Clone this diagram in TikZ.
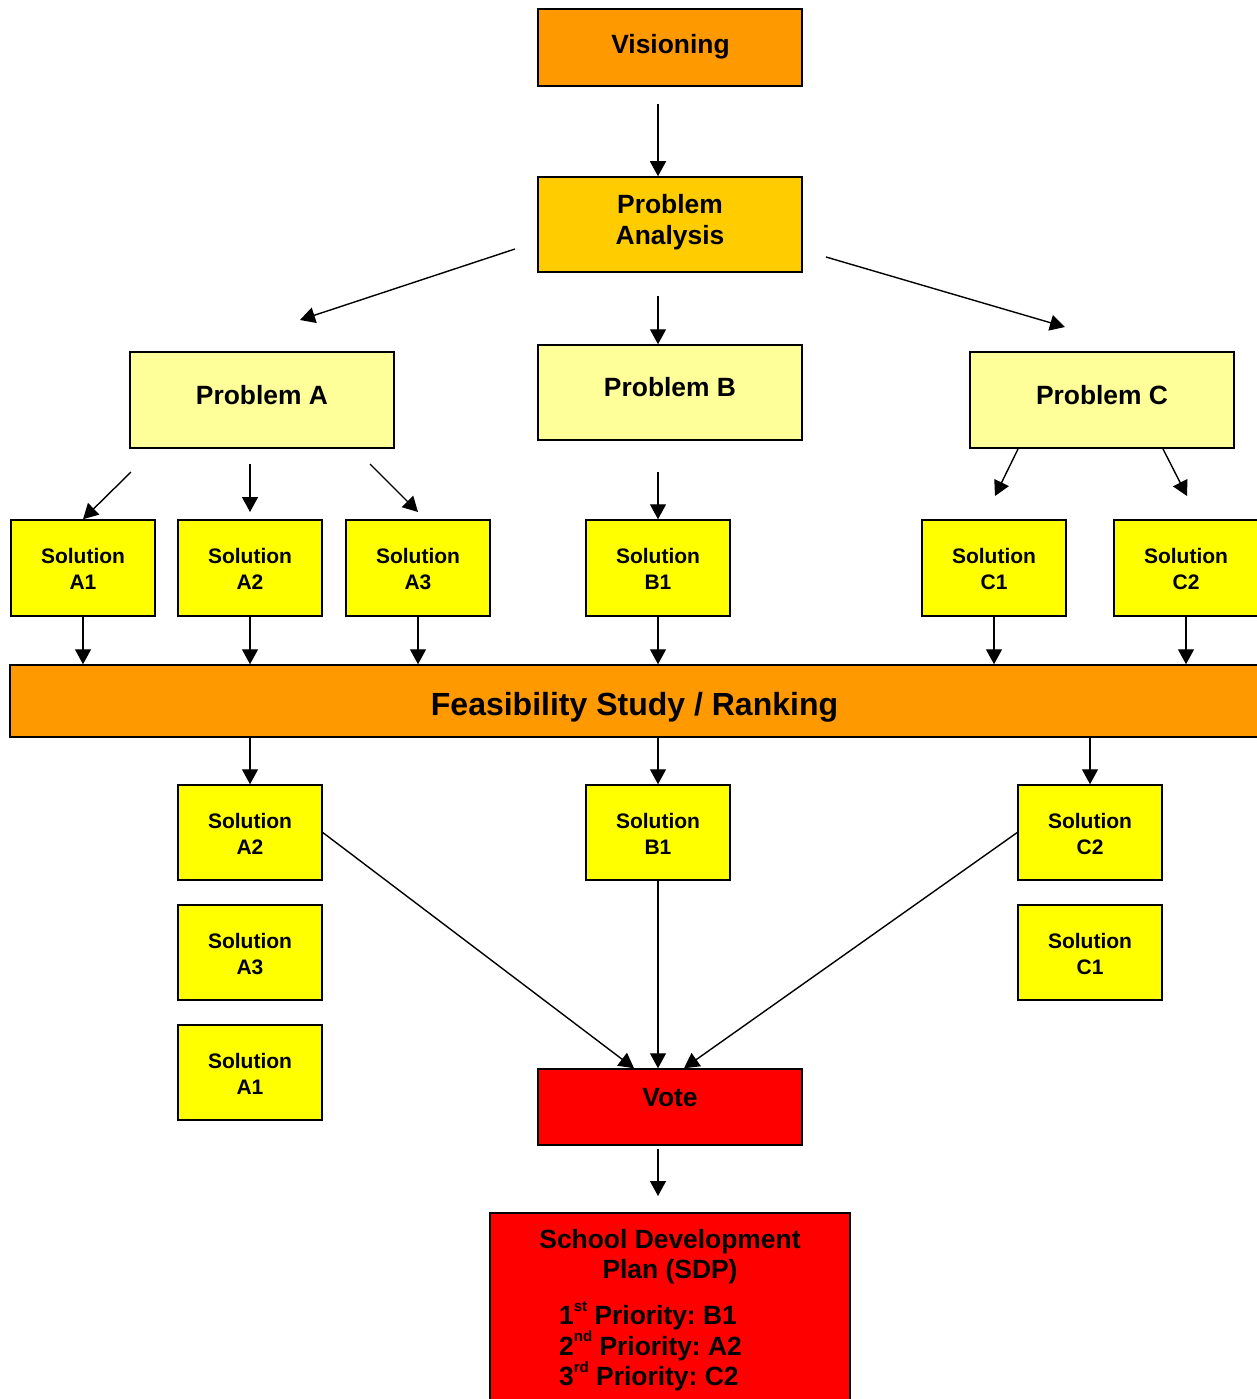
\documentclass[tikz,border=0pt]{standalone}
\usepackage{fontspec}
\setmainfont{Liberation Sans}
\usetikzlibrary{arrows.meta,calc}
\definecolor{cVis}{HTML}{FF9900}
\definecolor{cPA}{HTML}{FFCC00}
\definecolor{cProb}{HTML}{FFFF99}
\definecolor{cSol}{HTML}{FFFF00}
\definecolor{cRed}{HTML}{FF0000}
\frenchspacing
\tikzset{
  boxbase/.style={draw=black,line width=1.5pt,rectangle,inner sep=0pt},
  bigbox/.style={boxbase,minimum width=264pt},
  solbox/.style={boxbase,fill=cSol,minimum width=144pt,minimum height=96pt},
  bigtxt/.style={anchor=base,inner sep=0pt,font=\fontsize{26.4}{31}\selectfont\bfseries,align=center},
  soltxt/.style={anchor=base,inner sep=0pt,font=\fontsize{21}{26}\selectfont\bfseries,align=center},
  arr/.style={line width=1.4pt,-{Triangle[length=15pt,width=16pt]}},
  conn/.style={line width=1.4pt}
}
\newcommand{\supx}[1]{\raisebox{0.5em}{\fontsize{15}{15}\selectfont #1}}
\begin{document}
\begin{tikzpicture}[x=1pt,y=-1pt]
\useasboundingbox (0,0) rectangle (1257,1399);
\clip (0,0) rectangle (1257,1399);
% top
\node[bigbox,fill=cVis,minimum height=77pt] (vis) at (670,47.5) {};
\node[bigtxt] (visT) at (670.5,54) {Visioning};
\node[bigbox,fill=cPA,minimum height=95pt] (pa) at (670,224.5) {};
\node[bigtxt] (paT1) at (670,213) {Problem};
\node[bigtxt] (paT2) at (670,244) {Analysis};
% problems
\node[bigbox,fill=cProb,minimum height=96pt] (pA) at (262,400) {};
\node[bigtxt] (pAT) at (262,404.5) {Problem A};
\node[bigbox,fill=cProb,minimum height=95pt] (pB) at (670,392.5) {};
\node[bigtxt] (pBT) at (670,396.5) {Problem B};
\node[bigbox,fill=cProb,minimum height=96pt] (pC) at (1102,400) {};
\node[bigtxt] (pCT) at (1102,404.5) {Problem C};
% solutions row 1
\foreach \n/\x/\l in {sA1/83/A1,sA2/250/A2,sA3/418/A3,sB1/658/B1,sC1/994/C1,sC2/1186/C2}{
  \node[solbox] (\n) at (\x,568) {};
  \node[soltxt] (\n T1) at (\x,563.3) {Solution};
  \node[soltxt] (\n T2) at (\x,589.3) {\l};
}
% feasibility
\node[boxbase,fill=cVis,minimum width=1250pt,minimum height=72pt] (feas) at (635,701) {};
\node[anchor=base,inner sep=0pt,font=\fontsize{32}{38}\selectfont\bfseries] (feasT) at (634.5,715) {Feasibility Study / Ranking};
% solutions after ranking
\foreach \n/\x/\y/\l in {bA2/250/832.5/A2,bB1/658/832.5/B1,bC2/1090/832.5/C2,bA3/250/952.5/A3,bC1/1090/952.5/C1,bA1/250/1072.5/A1}{
  \node[solbox,minimum height=95pt] (\n) at (\x,\y) {};
  \node[soltxt] (\n T1) at (\x,\y-4.5) {Solution};
  \node[soltxt] (\n T2) at (\x,\y+21.5) {\l};
}
% vote
\node[bigbox,fill=cRed,minimum height=76pt] (vote) at (670,1107) {};
\node[bigtxt] (voteT) at (670,1106) {Vote};
% SDP
\node[boxbase,fill=cRed,minimum width=360pt,minimum height=210pt] (sdp) at (670,1318) {};
\node[bigtxt] (sdpT1) at (670,1248.3) {School Development};
\node[bigtxt] (sdpT2) at (670,1278.3) {Plan (SDP)};
\node[bigtxt,anchor=base west] (pr1) at (559,1324.3) {1\supx{st} Priority: B1};
\node[bigtxt,anchor=base west] (pr2) at (559,1355) {2\supx{nd} Priority: A2};
\node[bigtxt,anchor=base west] (pr3) at (559,1385.7) {3\supx{rd} Priority: C2};
% free arrow ends
\coordinate (c1) at (658,104);
\coordinate (c2s) at (515,249);
\coordinate (c2e) at (300,320);
\coordinate (c3) at (658,296);
\coordinate (c4s) at (826,257);
\coordinate (c4e) at (1065,327);
\coordinate (c5) at (131,472);
\coordinate (c6s) at (250,464);
\coordinate (c6e) at (250,512);
\coordinate (c7s) at (370,464);
\coordinate (c7e) at (418,512);
\coordinate (c8) at (658,472);
\coordinate (c9s) at (1018,449);
\coordinate (c9e) at (995,496);
\coordinate (c10s) at (1163,449);
\coordinate (c10e) at (1187,496);
\coordinate (c11s) at (658,1149);
\coordinate (c11e) at (658,1196);
% arrows
\draw[arr] (c1) -- ([xshift=-12pt]pa.north);
\draw[arr] (c2s) -- (c2e);
\draw[arr] (c3) -- ([xshift=-12pt]pB.north);
\draw[arr] (c4s) -- (c4e);
\draw[arr] (c5) -- (sA1.north);
\draw[arr] (c6s) -- (c6e);
\draw[arr] (c7s) -- (c7e);
\draw[arr] (c8) -- (sB1.north);
\draw[arr] (c9s) -- (c9e);
\draw[arr] (c10s) -- (c10e);
\foreach \n in {sA1,sA2,sA3,sB1,sC1,sC2}{
  \draw[arr] (\n.south) -- (\n.south |- feas.north);
}
\foreach \n in {bA2,bB1,bC2}{
  \draw[arr] (\n.north |- feas.south) -- (\n.north);
}
\draw[arr] (bA2.east) -- ([xshift=-36pt]vote.north);
\draw[arr] (bB1.south) -- ([xshift=-12pt]vote.north);
\draw[arr] (bC2.west) -- ([xshift=14pt]vote.north);
\draw[arr] (c11s) -- (c11e);
\end{tikzpicture}
\end{document}
